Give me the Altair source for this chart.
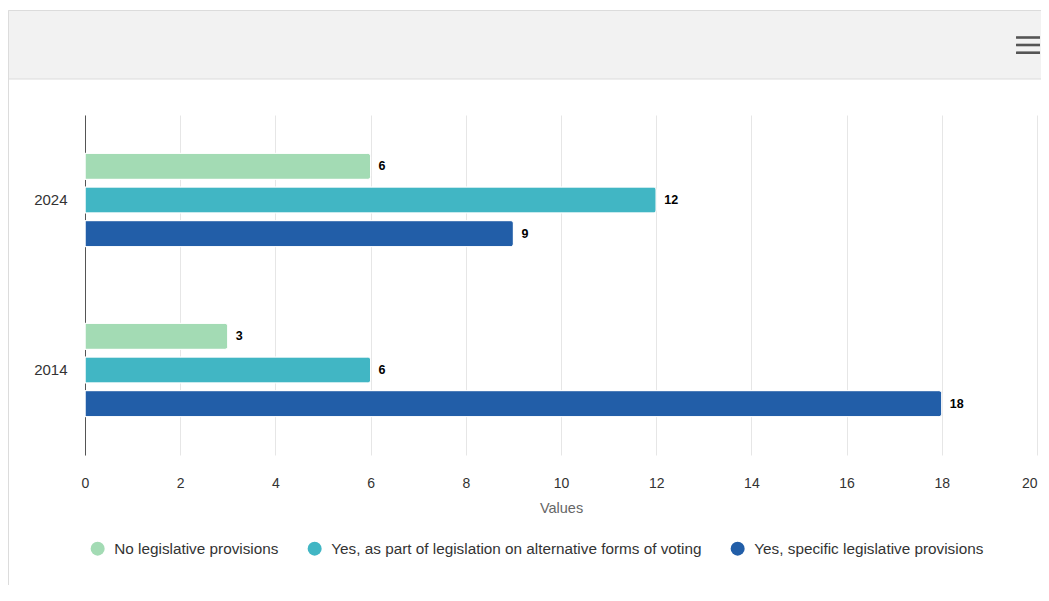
import altair as alt
import pandas as pd

years = ["2024", "2014"]
series = [
    "No legislative provisions",
    "Yes, as part of legislation on alternative forms of voting",
    "Yes, specific legislative provisions",
]
values_2024 = [6, 12, 9]
values_2014 = [3, 6, 18]
colors = ["#a3dbb4", "#41b6c4", "#225ea8"]
x_ticks = list(range(0, 21, 2))

rows = []
for yr, vals in zip(years, [values_2024, values_2014]):
    for s, v in zip(series, vals):
        rows.append({"Year": yr, "Series": s, "Value": v})
df = pd.DataFrame(rows)

FONT = "Liberation Sans"

y_enc = alt.Y(
    "Year:N",
    sort=years,
    scale=alt.Scale(paddingInner=0.406, paddingOuter=0.203),
    axis=alt.Axis(
        title=None,
        ticks=False,
        labelPadding=18,
        labelFontSize=15,
        labelColor="#333333",
        domainColor="#555555",
        domainWidth=1,
        grid=False,
    ),
)
yoff_enc = alt.YOffset(
    "Series:N",
    sort=series,
    scale=alt.Scale(paddingInner=0.225, paddingOuter=0.1125),
)
x_enc = alt.X(
    "Value:Q",
    scale=alt.Scale(domain=[0, 20], nice=False),
    axis=alt.Axis(
        values=x_ticks,
        title="Values",
        titleFontSize=14.5,
        titleFontWeight="normal",
        titleColor="#666666",
        titlePadding=11,
        labelFontSize=14,
        labelColor="#333333",
        labelPadding=21,
        labelFlush=False,
        labelAlign={"condition": {"test": "datum.value == 20", "value": "right"}, "value": "center"},
        ticks=False,
        tickSize=0,
        domain=False,
        grid=True,
        gridColor="#e6e6e6",
        gridWidth=1,
    ),
)

bars = alt.Chart(df).mark_bar(
    cornerRadiusEnd=3, stroke="white", strokeWidth=1
).encode(
    x=x_enc,
    y=y_enc,
    yOffset=yoff_enc,
    color=alt.Color(
        "Series:N",
        sort=series,
        scale=alt.Scale(domain=series, range=colors),
        legend=alt.Legend(
            title=None,
            orient="none",
            direction="horizontal",
            legendX=5,
            legendY=426,
            symbolType="circle",
            symbolSize=196,
            symbolStrokeWidth=0,
            labelFontSize=15.3,
            labelColor="#333333",
            labelOffset=9,
            labelLimit=0,
            columnPadding=28,
            padding=0,
        ),
    ),
)

labels = alt.Chart(df).mark_text(
    align="left", baseline="middle", dx=8, fontSize=12.5, fontWeight="bold",
    color="#000000", font=FONT,
).encode(
    x="Value:Q",
    y=alt.Y("Year:N", sort=years),
    yOffset=alt.YOffset("Series:N", sort=series),
    text="Value:Q",
)

one = pd.DataFrame({"k": [0]})
header = alt.Chart(one).mark_rect(
    fill="#f2f2f2", stroke="#dcdcdc", strokeWidth=1
).encode(
    x=alt.value(-76.5), x2=alt.value(970), y=alt.value(-104.5), y2=alt.value(-36)
)
left_border = alt.Chart(one).mark_rule(color="#dcdcdc", strokeWidth=1).encode(
    x=alt.value(-76.5), y=alt.value(-104.5), y2=alt.value(470)
)
ham1 = alt.Chart(one).mark_rule(color="#555555", strokeWidth=2.6).encode(
    x=alt.value(931), x2=alt.value(955), y=alt.value(-77.5)
)
ham2 = alt.Chart(one).mark_rule(color="#555555", strokeWidth=2.6).encode(
    x=alt.value(931), x2=alt.value(955), y=alt.value(-70)
)
ham3 = alt.Chart(one).mark_rule(color="#555555", strokeWidth=2.6).encode(
    x=alt.value(931), x2=alt.value(955), y=alt.value(-62.3)
)

chart = alt.layer(header, left_border, ham1, ham2, ham3, bars, labels).properties(
    width=952,
    height=340,
    autosize=alt.AutoSizeParams(type="none"),
    padding={"left": 77, "top": 107, "right": 4, "bottom": 130},
    background="white",
).configure(font=FONT).configure_view(strokeWidth=0, stroke="transparent")

chart.save("out.html", embed_options={"renderer": "svg", "actions": False})
